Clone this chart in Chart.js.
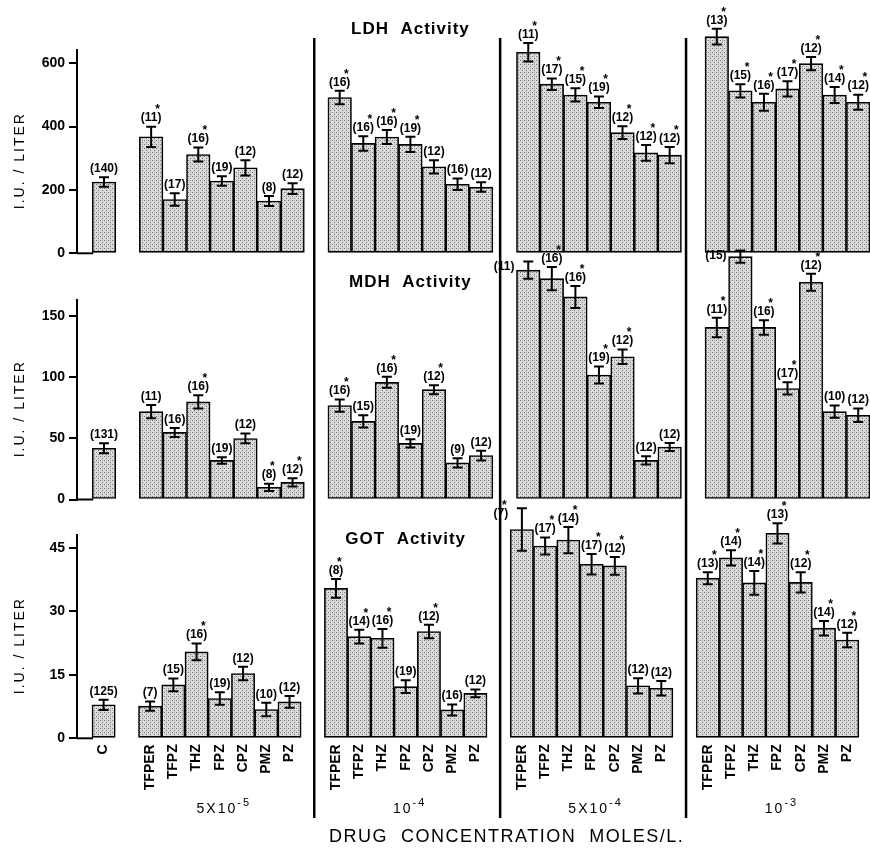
<!DOCTYPE html>
<html><head><meta charset="utf-8">
<script src="https://cdn.jsdelivr.net/npm/chart.js@4.4.1/dist/chart.umd.min.js"></script>
<style>
html,body{margin:0;padding:0;background:#fff;}
#wrap{position:relative;width:870px;height:849px;overflow:hidden;background:#fff;}
#wrap canvas{position:absolute;left:0;top:0;}
</style></head><body>
<div id="wrap">
<canvas id="ldh" width="870" height="849"></canvas>
<canvas id="mdh" width="870" height="849"></canvas>
<canvas id="got" width="870" height="849"></canvas>
</div>
<script>
// ---------- data ----------
const drugs = ['TFPER','TFPZ','THZ','FPZ','CPZ','PMZ','PZ'];
const controlLabel = 'C';
const concBase = ['5X10','10','5X10','10'];
const concExp  = ['-5','-4','-4','-3'];
const axisTitle = 'I.U. / LITER';
const xTitle = 'DRUG  CONCENTRATION  MOLES/L.';

// LDH
const ldhControl = 225, ldhControlSem = 15, ldhControlN = 140;
const ldhMean = [
  [368,170,312,228,270,165,204],
  [492,347,367,344,273,218,209],
  [635,534,500,477,381,317,310],
  [684,513,477,519,599,500,477]];
const ldhSem = [
  [32,20,22,15,24,16,17],
  [21,23,22,24,21,18,15],
  [29,18,21,18,20,25,26],
  [25,21,27,24,21,25,24]];
const ldhN = [[11,17,16,19,12,8,12],[16,16,16,19,12,16,12],[11,17,15,19,12,12,12],[13,15,16,17,12,14,12]];
const ldhSig = [[1,0,1,0,0,0,0],[1,1,1,1,0,0,0],[1,1,1,1,1,1,1],[1,1,1,1,1,1,1]];
const ldhTicks = [0,200,400,600];

// MDH
const mdhControl = 42, mdhControlSem = 4, mdhControlN = 131;
const mdhMean = [
  [72,55,80,32,50,10,14],
  [77,64,96,46,90,30,36],
  [188,181,166,102,117,32,43],
  [141,199,141,91,178,72,69]];
const mdhSem = [
  [5.5,3.7,5.5,2.7,4,3,3.4],
  [5,5,4.5,3.4,3.7,3.8,4],
  [7,9.6,9,7,6,3.4,3.3],
  [8,5,6,5,7,5,5.5]];
const mdhN = [[11,16,16,19,12,8,12],[16,15,16,19,12,9,12],[11,16,16,19,12,12,12],[11,15,16,17,12,10,12]];
const mdhSig = [[0,0,1,0,0,1,1],[1,0,1,0,1,0,0],[0,1,1,1,1,0,0],[1,0,1,1,1,0,0]];
const mdhTicks = [0,50,100,150];

// GOT
const gotControl = 7.9, gotControlSem = 1.2, gotControlN = 125;
const gotMean = [
  [7.6,12.6,20.4,9.4,15.3,6.8,8.6],
  [35.4,24,23.6,12.2,25.2,6.7,10.6],
  [49.3,45.4,46.8,41.1,40.7,12.4,11.8],
  [37.8,42.6,36.7,48.4,36.8,26,23.2]];
const gotSem = [
  [1.1,1.5,2,1.5,1.6,1.6,1.4],
  [2.2,1.6,2.2,1.5,1.6,1.3,0.9],
  [5,2,3.1,2.4,2.1,1.8,1.7],
  [1.4,1.8,2.8,2.4,2.4,1.7,1.7]];
const gotN = [[7,15,16,19,12,10,12],[8,14,16,19,12,16,12],[7,17,14,17,12,12,12],[13,14,14,13,12,14,12]];
const gotSig = [[0,0,1,0,0,0,0],[1,1,1,0,1,0,0],[1,1,1,1,1,0,0],[1,1,1,1,1,1,1]];
const gotTicks = [0,15,30,45];

// ---------- helpers ----------
const FONT = '"Liberation Sans", Arial, Helvetica, sans-serif';
function buildPoints(ctrl, ctrlSem, ctrlN, mean, sem, n, sig) {
  const pts = [{x:0, y:ctrl, sem:ctrlSem, n:ctrlN, sig:0}];
  mean.forEach((row, g) => row.forEach((v, d) => pts.push({
    x: 2 + g*8 + d, y: v, sem: sem[g][d], n: n[g][d], sig: sig[g][d]})));
  return pts;
}
function xLabel(v) {
  if (v === 0) return controlLabel;
  return drugs[(v - 2) % 8] || '';
}
function stipple(ctx) {
  const c = document.createElement('canvas'); c.width = 4; c.height = 4;
  const g = c.getContext('2d');
  g.fillStyle = '#dadada'; g.fillRect(0,0,4,4);
  g.fillStyle = '#767676'; g.fillRect(0,0,1,1); g.fillRect(2,2,1,1);
  g.fillStyle = '#b0b0b0'; g.fillRect(2,0,1,1);
  return ctx.createPattern(c, 'repeat');
}
function spacedText(ctx, txt, x, y, spacing) {
  if ('letterSpacing' in ctx) { ctx.letterSpacing = spacing + 'px'; }
  ctx.fillText(txt, x, y);
  if ('letterSpacing' in ctx) { ctx.letterSpacing = '0px'; }
}

function makePanel(p) {
  const canvas = document.getElementById(p.id);
  const ctx = canvas.getContext('2d');
  const pts = p.points;
  const xIdx = pts.map(q => q.x);
  const plugin = {
    id: 'deco_' + p.id,
    afterDatasetsDraw(chart) {
      const c = chart.ctx, xs = chart.scales.x, ys = chart.scales.y, ca = chart.chartArea;
      const meta = chart.getDatasetMeta(0);
      c.save();
      c.strokeStyle = '#000'; c.fillStyle = '#000';
      // baseline from axis to control bar
      const b0 = meta.data[0];
      const y0 = ys.getPixelForValue(0);
      c.lineWidth = 2;
      c.beginPath(); c.moveTo(ca.left, y0); c.lineTo(b0.x - b0.width/2 + 1, y0); c.stroke();
      // error bars + n labels
      pts.forEach((q, i) => {
        const bar = meta.data[i];
        const x = bar.x;
        const yt = ys.getPixelForValue(q.y + q.sem);
        const yb = ys.getPixelForValue(q.y - q.sem);
        c.lineWidth = 2;
        c.beginPath();
        c.moveTo(x, yt); c.lineTo(x, yb);
        c.moveTo(x-5, yt); c.lineTo(x+5, yt);
        c.moveTo(x-5, yb); c.lineTo(x+5, yb);
        c.stroke();
        const txt = '(' + q.n + ')';
        c.font = 'bold 12px ' + FONT;
        c.textBaseline = 'middle';
        let lx, ly = yt - 8.5, align = 'center';
        if (ly < p.labelCeil) { align = 'right'; lx = x - bar.width/2 - 2; ly = yt + 5; }
        else { lx = x; }
        c.textAlign = align;
        c.fillText(txt, lx, ly);
        if (q.sig) {
          const w = c.measureText(txt).width;
          const right = align === 'center' ? lx + w/2 : lx;
          c.textAlign = 'center';
          c.fillText('*', right - 4, ly - 8);
        }
      });
      // panel title
      c.font = 'bold 17px ' + FONT;
      c.textAlign = 'center'; c.textBaseline = 'middle';
      spacedText(c, p.title, xs.getPixelForValue(13), p.titleY, 1);
      // y-axis title
      c.save();
      c.translate(20, (ca.top + ca.bottom)/2 + 9);
      c.rotate(-Math.PI/2);
      c.font = '14px ' + FONT;
      c.textAlign = 'center'; c.textBaseline = 'middle';
      spacedText(c, axisTitle, 0, 0, 2);
      c.restore();
      if (p.bottom) {
        // group separators
        c.lineWidth = 2.5;
        [9,17,25].forEach(g => {
          const sx = xs.getPixelForValue(g) + 1.5;
          c.beginPath(); c.moveTo(sx, 38); c.lineTo(sx, 818); c.stroke();
        });
        // concentration labels
        concBase.forEach((base, g) => {
          const cx = xs.getPixelForValue(5 + g*8) + 4;
          c.font = '14px ' + FONT;
          if ('letterSpacing' in c) c.letterSpacing = '2px';
          const wb = c.measureText(base).width;
          c.font = '11px ' + FONT;
          const we = c.measureText(concExp[g]).width;
          const start = cx - (wb + we)/2;
          c.textAlign = 'left'; c.textBaseline = 'middle';
          c.font = '14px ' + FONT;
          c.fillText(base, start, 809);
          c.font = '11px ' + FONT;
          c.fillText(concExp[g], start + wb, 803);
          if ('letterSpacing' in c) c.letterSpacing = '0px';
        });
        // x title
        c.font = '18px ' + FONT;
        c.textAlign = 'center'; c.textBaseline = 'middle';
        spacedText(c, xTitle, xs.getPixelForValue(17) + 8, 837, 1.5);
      }
      c.restore();
    }
  };
  return new Chart(ctx, {
    type: 'bar',
    data: { datasets: [{
      data: pts.map(q => ({x: q.x, y: q.y})),
      backgroundColor: stipple(ctx),
      borderColor: '#000',
      borderWidth: 1.6,
      borderSkipped: false,
      barPercentage: 1.0,
      categoryPercentage: 1.0,
      clip: false
    }]},
    options: {
      responsive: false, animation: false, devicePixelRatio: 1,
      events: [],
      layout: { padding: { top: p.padTop, bottom: p.padBottom, left: 0, right: 0 } },
      plugins: { legend: {display: false}, tooltip: {enabled: false}, title: {display: false} },
      scales: {
        x: {
          type: 'linear', min: -1.146, max: 32.5, bounds: 'data', offset: false,
          display: !!p.bottom,
          afterBuildTicks: s => { s.ticks = xIdx.map(v => ({value: v})); },
          afterFit: s => { if (p.bottom) s.height = 849 - p.baseY; },
          grid: {display: false, drawTicks: false, offset: false},
          border: {display: false},
          ticks: {autoSkip: false, maxRotation: 90, minRotation: 90, padding: 6, color: '#000',
                  font: {family: FONT, size: 14, weight: 'bold'}, callback: v => xLabel(v)}
        },
        y: {
          type: 'linear', min: 0, max: p.yMax, bounds: 'data',
          afterBuildTicks: s => { s.ticks = p.ticks.map(v => ({value: v})); },
          afterFit: s => { s.width = 77; },
          border: {display: true, color: '#000', width: 2},
          grid: {display: true, drawOnChartArea: false, drawTicks: true, tickLength: 8, color: '#000', lineWidth: 2},
          ticks: {color: '#000', padding: 4, font: {family: FONT, size: 14, weight: 'bold'}}
        }
      }
    },
    plugins: [plugin]
  });
}

makePanel({
  id: 'ldh', title: 'LDH  Activity', titleY: 29,
  points: buildPoints(ldhControl, ldhControlSem, ldhControlN, ldhMean, ldhSem, ldhN, ldhSig),
  ticks: ldhTicks, yMax: 642, padTop: 50, padBottom: 849 - 253.3, labelCeil: 0
});
makePanel({
  id: 'mdh', title: 'MDH  Activity', titleY: 282,
  points: buildPoints(mdhControl, mdhControlSem, mdhControlN, mdhMean, mdhSem, mdhN, mdhSig),
  ticks: mdhTicks, yMax: 163.5, padTop: 300, padBottom: 849 - 499.5, labelCeil: 255.5
});
makePanel({
  id: 'got', title: 'GOT  Activity', titleY: 539, bottom: true, baseY: 738.3,
  points: buildPoints(gotControl, gotControlSem, gotControlN, gotMean, gotSem, gotN, gotSig),
  ticks: gotTicks, yMax: 48, padTop: 535, padBottom: 0, labelCeil: 502
});
</script>
</body></html>
